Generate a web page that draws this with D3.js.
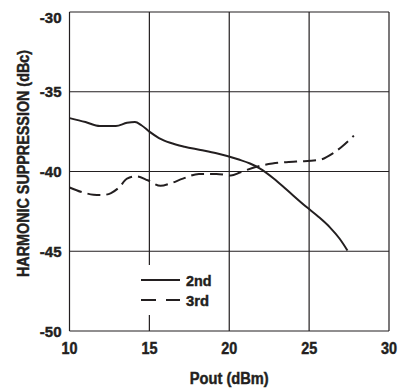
<!DOCTYPE html>
<html>
<head>
<meta charset="utf-8">
<script src="https://cdn.jsdelivr.net/npm/d3@7"></script>
<style>
  body { margin: 0; background: #fff; }
  svg text { font-family: "Liberation Sans", Arial, sans-serif; font-weight: bold; fill: #231f20; stroke: #231f20; stroke-width: 0.45px; }
</style>
</head>
<body>
<div id="chart"></div>
<script>
// values
var xTicks = [10, 15, 20, 25, 30];
var yTicks = [-50, -45, -40, -35, -30];

var secondX = [10, 11, 11.9, 12.9, 13.6, 14.1, 14.5, 15, 15.6, 16.3, 17.2, 18.2, 19.2, 20.6, 21.3, 21.9, 22.8, 23.6, 24.8, 25.6, 26.3, 26.9, 27.4];
var secondY = [-36.65, -36.9, -37.15, -37.15, -36.95, -36.9, -37.1, -37.5, -37.9, -38.2, -38.45, -38.65, -38.86, -39.25, -39.5, -39.8, -40.45, -41.15, -42.2, -42.85, -43.5, -44.2, -44.95];

var thirdX = [10, 10.8, 11.5, 12.1, 12.6, 13.1, 13.6, 14.2, 14.9, 15.7, 16.3, 17.1, 18.1, 19.2, 20.1, 20.7, 21.7, 22.7, 24.2, 25.6, 26.5, 27.1, 27.8];
var thirdY = [-41.0, -41.3, -41.45, -41.47, -41.35, -41.0, -40.45, -40.3, -40.55, -40.9, -40.75, -40.45, -40.15, -40.15, -40.25, -40.05, -39.7, -39.5, -39.38, -39.28, -38.85, -38.4, -37.75];

var seriesNames = ["2nd", "3rd"];

var svg = d3.select("#chart").append("svg")
    .attr("width", 406)
    .attr("height", 392);

var pLeft = 69.5, pRight = 389, pTop = 12, pBottom = 331;

var x = d3.scaleLinear().domain([10, 30]).range([pLeft, pRight]);
var y = d3.scaleLinear().domain([-50, -30]).range([pBottom, pTop]);

// grid
svg.append("g").selectAll("line")
    .data(xTicks)
    .enter().append("line")
    .attr("x1", function(d) { return x(d); })
    .attr("x2", function(d) { return x(d); })
    .attr("y1", pTop)
    .attr("y2", pBottom)
    .attr("stroke", "#231f20")
    .attr("stroke-width", 1.2);

svg.append("g").selectAll("line")
    .data(yTicks)
    .enter().append("line")
    .attr("x1", pLeft)
    .attr("x2", pRight)
    .attr("y1", function(d) { return y(d); })
    .attr("y2", function(d) { return y(d); })
    .attr("stroke", "#231f20")
    .attr("stroke-width", 1.2);

// tick labels
svg.append("g").selectAll("text")
    .data(xTicks)
    .enter().append("text")
    .attr("x", function(d) { return x(d); })
    .attr("y", 353.5)
    .attr("text-anchor", "middle")
    .attr("font-size", 16)
    .attr("textLength", 16)
    .attr("lengthAdjust", "spacingAndGlyphs")
    .text(function(d) { return d; });

svg.append("g").selectAll("text")
    .data(yTicks)
    .enter().append("text")
    .attr("x", 61.5)
    .attr("y", function(d) { return Math.max(y(d), 17) + 5.5; })
    .attr("text-anchor", "end")
    .attr("font-size", 15)
    .text(function(d) { return d; });

// axis titles
svg.append("text")
    .attr("x", x(20))
    .attr("y", 384)
    .attr("text-anchor", "middle")
    .attr("font-size", 16)
    .attr("textLength", 79)
    .attr("lengthAdjust", "spacingAndGlyphs")
    .text("Pout (dBm)");

svg.append("text")
    .attr("transform", "translate(28.5,163.5) rotate(-90)")
    .attr("text-anchor", "middle")
    .attr("font-size", 16)
    .attr("textLength", 227)
    .attr("lengthAdjust", "spacingAndGlyphs")
    .text("HARMONIC SUPPRESSION (dBc)");

// legend box covers grid
svg.append("rect")
    .attr("x", 134)
    .attr("y", 265)
    .attr("width", 80)
    .attr("height", 50)
    .attr("fill", "#fff");

var line = d3.line()
    .x(function(d) { return x(d[0]); })
    .y(function(d) { return y(d[1]); })
    .curve(d3.curveMonotoneX);

var series = [
    { name: seriesNames[0], pts: d3.zip(secondX, secondY), dash: null, w: 25.5 },
    { name: seriesNames[1], pts: d3.zip(thirdX, thirdY), dash: "13,6", w: 23 }
];

svg.append("g").selectAll("path")
    .data(series)
    .enter().append("path")
    .attr("d", function(d) { return line(d.pts); })
    .attr("fill", "none")
    .attr("stroke", "#231f20")
    .attr("stroke-width", 2)
    .attr("stroke-dasharray", function(d) { return d.dash; });

// legend
var lg = svg.append("g").selectAll("g")
    .data(series)
    .enter().append("g")
    .attr("transform", function(d, i) { return "translate(0," + (280 + i * 20) + ")"; });

lg.append("line")
    .attr("x1", 141)
    .attr("x2", 180)
    .attr("stroke", "#231f20")
    .attr("stroke-width", 2)
    .attr("stroke-dasharray", function(d) { return d.dash ? "15,10" : null; });

lg.append("text")
    .attr("x", 186)
    .attr("y", 6)
    .attr("font-size", 15)
    .attr("textLength", function(d) { return d.w; })
    .attr("lengthAdjust", "spacingAndGlyphs")
    .text(function(d) { return d.name; });
</script>
</body>
</html>
